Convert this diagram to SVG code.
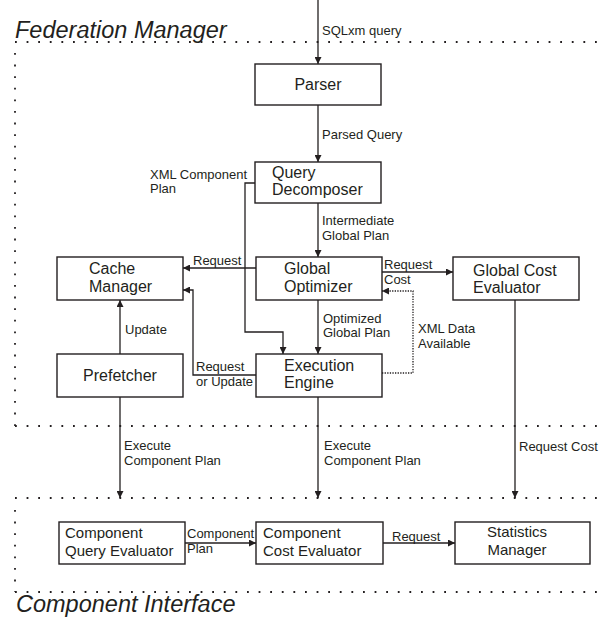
<svg xmlns="http://www.w3.org/2000/svg" width="605" height="621" viewBox="0 0 605 621">
<defs>
<marker id="ah" viewBox="0 0 10 10" refX="10" refY="5" markerWidth="7" markerHeight="7" markerUnits="userSpaceOnUse" orient="auto">
<path d="M0,0 L10,5 L0,10 z" fill="#231f20"/>
</marker>
<style>
.box{fill:#fff;stroke:#231f20;stroke-width:1.4}
.ln{fill:none;stroke:#231f20;stroke-width:1.3;marker-end:url(#ah)}
.dl{fill:none;stroke:#231f20;stroke-width:1.3;stroke-dasharray:1.3 1.3;marker-end:url(#ah)}
.fr{fill:none;stroke:#231f20;stroke-width:1.8;stroke-dasharray:1.8 9.8}
.n{font-family:"Liberation Sans",Arial,sans-serif;font-size:16px;fill:#231f20}
.ns{font-family:"Liberation Sans",Arial,sans-serif;font-size:15px;fill:#231f20}
.e{font-family:"Liberation Sans",Arial,sans-serif;font-size:13px;fill:#231f20}
.t{font-family:"Liberation Sans",Arial,sans-serif;font-size:23.5px;font-style:italic;fill:#231f20}
</style>
</defs>
<rect width="605" height="621" fill="#fff"/>
<g id="frames">
<path class="fr" d="M15,42 H605"/>
<path class="fr" d="M15,53 V426"/>
<path class="fr" d="M15,426 H605"/>
<path class="fr" d="M15,498 H605"/>
<path class="fr" d="M15,510 V592"/>
<path class="fr" d="M15,592 H605"/>
<text class="t" x="15" y="38">Federation Manager</text>
<text class="t" x="16" y="612">Component Interface</text>
</g>
<g id="connectors">
<path class="ln" d="M318,0 V64"/>
<path class="ln" d="M318,105 V162"/>
<path class="ln" d="M318,203 V257"/>
<path class="ln" d="M318,300 V354"/>
<path class="ln" d="M255,183 H245 V332 H283 V354"/>
<path class="ln" d="M256,268 H183"/>
<path class="ln" d="M256,375 H193 V290 H183"/>
<path class="ln" d="M120,354 V300"/>
<path class="ln" d="M382,272 H453"/>
<path class="dl" d="M382,373 H413 V291 H382"/>
<path class="ln" d="M120,397 V498"/>
<path class="ln" d="M318,397 V498"/>
<path class="ln" d="M515,300 V498"/>
<path class="ln" d="M185,543 H256"/>
<path class="ln" d="M383,543 H455"/>
<text class="e" x="322" y="35">SQLxm query</text>
<text class="e" x="322" y="139">Parsed Query</text>
<text class="e" x="150" y="179">XML Component</text>
<text class="e" x="150" y="193">Plan</text>
<text class="e" x="322" y="225">Intermediate</text>
<text class="e" x="322" y="240">Global Plan</text>
<text class="e" x="193" y="265">Request</text>
<text class="e" x="384" y="269">Request</text>
<text class="e" x="384" y="284">Cost</text>
<text class="e" x="125" y="334">Update</text>
<text class="e" x="323" y="323">Optimized</text>
<text class="e" x="323" y="337">Global Plan</text>
<text class="e" x="418" y="333">XML Data</text>
<text class="e" x="418" y="348">Available</text>
<text class="e" x="196" y="371">Request</text>
<text class="e" x="196" y="386">or Update</text>
<text class="e" x="124" y="450">Execute</text>
<text class="e" x="124" y="465">Component Plan</text>
<text class="e" x="324" y="450">Execute</text>
<text class="e" x="324" y="465">Component Plan</text>
<text class="e" x="519" y="451">Request Cost</text>
<text class="e" x="187" y="538">Component</text>
<text class="e" x="187" y="553">Plan</text>
<text class="e" x="392" y="541">Request</text>
</g>
<g id="parser">
<rect class="box" x="255" y="64" width="126" height="41"/>
<text class="n" x="318" y="90" text-anchor="middle">Parser</text>
</g>
<g id="query-decomposer">
<rect class="box" x="255" y="162" width="126" height="41"/>
<text class="n" x="272" y="178">Query</text>
<text class="n" x="272" y="195">Decomposer</text>
</g>
<g id="cache-manager">
<rect class="box" x="57" y="257" width="126" height="43"/>
<text class="n" x="89" y="274">Cache</text>
<text class="n" x="89" y="292">Manager</text>
</g>
<g id="global-optimizer">
<rect class="box" x="256" y="257" width="126" height="43"/>
<text class="n" x="284" y="274">Global</text>
<text class="n" x="284" y="292">Optimizer</text>
</g>
<g id="global-cost-evaluator">
<rect class="box" x="453" y="257" width="126" height="43"/>
<text class="n" x="473" y="276">Global Cost</text>
<text class="n" x="473" y="293">Evaluator</text>
</g>
<g id="prefetcher">
<rect class="box" x="57" y="354" width="126" height="43"/>
<text class="n" x="120" y="381" text-anchor="middle">Prefetcher</text>
</g>
<g id="execution-engine">
<rect class="box" x="256" y="354" width="126" height="43"/>
<text class="n" x="284" y="371">Execution</text>
<text class="n" x="284" y="388">Engine</text>
</g>
<g id="component-query-evaluator">
<rect class="box" x="59" y="522" width="126" height="42"/>
<text class="ns" x="65" y="538">Component</text>
<text class="ns" x="65" y="556">Query Evaluator</text>
</g>
<g id="component-cost-evaluator">
<rect class="box" x="256" y="522" width="127" height="42"/>
<text class="ns" x="263" y="538">Component</text>
<text class="ns" x="263" y="556">Cost Evaluator</text>
</g>
<g id="statistics-manager">
<rect class="box" x="455" y="522" width="135" height="42"/>
<text class="ns" x="517" y="537" text-anchor="middle">Statistics</text>
<text class="ns" x="517" y="555" text-anchor="middle">Manager</text>
</g>
</svg>
